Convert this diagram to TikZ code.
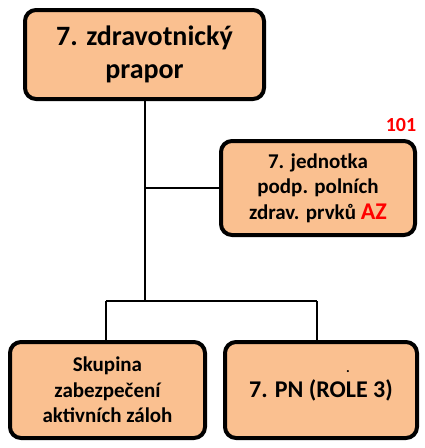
\documentclass[tikz,border=0pt]{standalone}
\usepackage{fontspec}
\setmainfont{Carlito}
\definecolor{boxfill}{HTML}{FAC090}
\definecolor{accred}{HTML}{FF0000}
\tikzset{
  orgbox/.style={draw=black, line width=4pt, fill=boxfill, rounded corners=11pt,
    align=center, inner sep=0pt, font=\bfseries},
  conn/.style={draw=black, line width=2pt},
}
\begin{document}
\begin{tikzpicture}[x=1pt,y=-1pt]
\useasboundingbox (0,0) rectangle (424,448);
\node[orgbox, minimum width=239pt, minimum height=89pt,
  font=\bfseries\fontsize{28}{33}\selectfont] (top) at (144.5,54.5)
  {7. zdravotnický\\prapor};
\node[orgbox, minimum width=194pt, minimum height=94pt,
  font=\bfseries\fontsize{21}{25.5}\selectfont] (unit) at (318,188)
  {7. jednotka\\podp. polních\\zdrav. prvků {\color{accred}\fontsize{24}{25.5}\selectfont AZ}};
\node[font=\bfseries\fontsize{20}{22}\selectfont, text=accred, inner sep=0pt] (num) at (401,125) {101};
\node[orgbox, minimum width=195pt, minimum height=96pt,
  font=\bfseries\fontsize{21}{25.5}\selectfont] (left) at (107.5,390)
  {Skupina\\zabezpečení\\aktivních záloh};
\node[orgbox, minimum width=192pt, minimum height=96pt,
  font=\bfseries\fontsize{24}{28}\selectfont] (right) at (321,390)
  {7. PN (ROLE 3)};
\node[font=\bfseries\fontsize{14}{16}\selectfont, inner sep=0pt, anchor=base] (dot) at (348,372) {.};
\coordinate (j) at (145,301);
\coordinate (jl) at (106,301);
\coordinate (jr) at (317,301);
\draw[conn] (top.south -| j) -- (j);
\draw[conn] (j |- unit.west) -- (unit.west);
\draw[conn] (jl) -- (jr);
\draw[conn] (jl) -- (jl |- left.north);
\draw[conn] (jr) -- (jr |- right.north);
\end{tikzpicture}
\end{document}
